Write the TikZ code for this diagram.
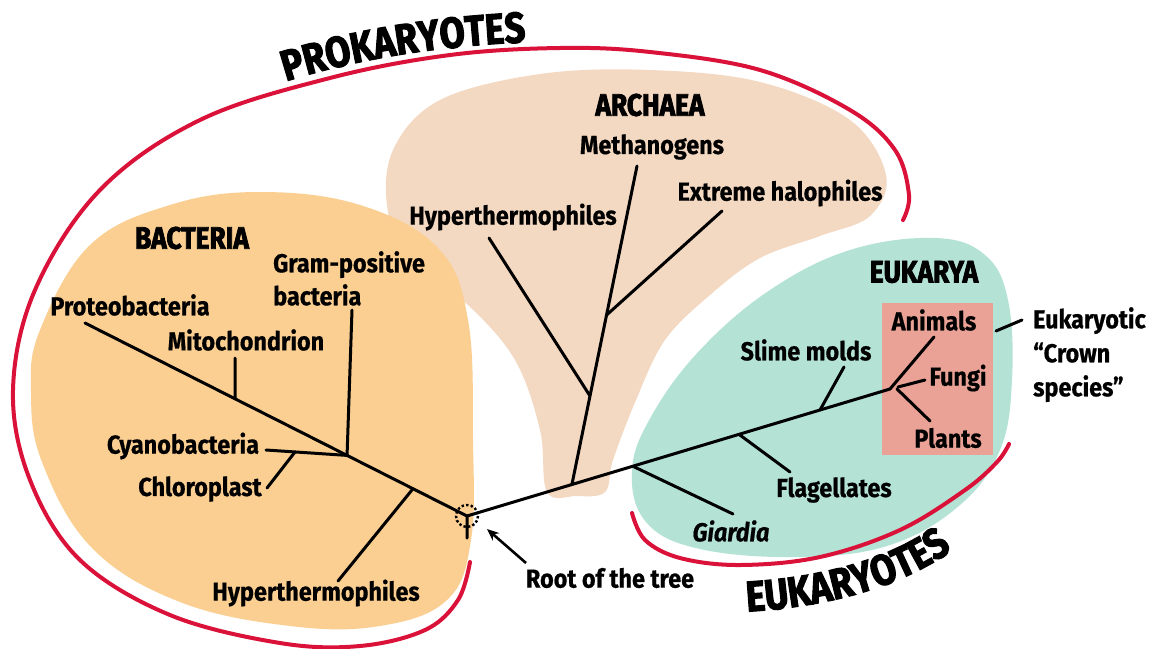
\documentclass[tikz,border=0pt]{standalone}
\usepackage{fontspec}
\newfontfamily\labfam{Fira Sans}[FakeStretch=0.9,FakeBold=0.6]
\newfontfamily\heavyfam{Fira Sans}[FakeStretch=0.85,FakeBold=2.5]
\usetikzlibrary{arrows.meta,calc,decorations.text}
\definecolor{bact}{RGB}{251,207,146}
\definecolor{arch}{RGB}{243,216,194}
\definecolor{euk}{RGB}{180,227,214}
\definecolor{crown}{RGB}{234,162,150}
\definecolor{redarc}{RGB}{218,18,58}
\newcommand\lblfont{\labfam\bfseries\fontsize{26}{33}\selectfont}
\newcommand\ttlfont{\heavyfam\bfseries\fontsize{31}{34}\selectfont}
\newcommand\bigfont{\heavyfam\bfseries\fontsize{43}{44}\selectfont}
\begin{document}
\begin{tikzpicture}[x=1pt,y=-1pt,
  lbl/.style={font=\lblfont, inner sep=0pt},
  ttl/.style={font=\ttlfont, inner sep=0pt},
  curvedtitle/.style={decorate, decoration={text along path, text align=center, text={|\bigfont|#1}}},
  br/.style={line width=3pt, line cap=round},
  redline/.style={draw=redarc, line width=4pt, line cap=round}]
\useasboundingbox (0,0) rectangle (1153,648);
\fill[white] (0,0) rectangle (1153,648);

% ---------- regions ----------
\fill[arch] plot[smooth cycle, tension=0.6] coordinates {(547,492) (540,430) (515,360) (468,305) (413,263) (388,212) (393,150) (440,100) (540,74) (650,70) (760,82) (850,120) (886,175) (870,216) (820,236) (760,258) (710,295) (665,340) (636,400) (613,460) (605,492) (576,496)};
\fill[bact] plot[smooth cycle, tension=0.65] coordinates {(40,330) (90,245) (170,205) (260,192) (360,205) (438,248) (468,320) (473,440) (471,540) (447,600) (380,626) (290,626) (180,602) (92,548) (42,462) (31,392)};
\fill[euk] plot[smooth cycle, tension=0.65] coordinates {(935,238) (985,255) (1008,300) (1012,380) (1000,450) (960,505) (890,545) (800,557) (700,549) (646,522) (632,470) (652,415) (700,350) (770,290) (850,250)};
\fill[crown] (882,303) rectangle (993,455);

% ---------- red brackets ----------
\draw[redline] plot[smooth, tension=0.6] coordinates {(903,220) (909,195) (895,150) (850,110) (760,70) (650,52) (560,48) (450,55) (330,78) (200,120) (100,190) (35,290) (13,390) (30,480) (80,560) (170,615) (280,643) (360,646) (425,630) (458,600) (470,562)};
\draw[redline] plot[smooth, tension=0.6] coordinates {(632,513) (645,540) (680,558) (740,565) (820,557) (900,530) (965,490) (997,462) (1009,444)};

% ---------- big titles (curved) ----------
\coordinate (prokA) at (284,82);
\coordinate (prokB) at (528,42);
\path[curvedtitle=PROKARYOTES] (prokA) .. controls (360,58) and (440,46) .. (prokB);
\coordinate (eukA) at (740,612);
\coordinate (eukB) at (958,546);
\path[curvedtitle=EUKARYOTES] (eukA) .. controls (820,608) and (900,590) .. (eukB);

\node[ttl] (bacttl) at (192,238) {BACTERIA};
\node[ttl] (archttl) at (650,105) {ARCHAEA};
\node[ttl] (euttl) at (924,272) {EUKARYA};

% ---------- tree coordinates ----------
\coordinate (R) at (467,516);
\coordinate (P) at (85,323);
\coordinate (mitoN) at ($(P)!0.3927!(R)$);
\coordinate (mitoT) at (235,358);
\coordinate (gramN) at ($(P)!0.686!(R)$);
\coordinate (gramT) at (352,310);
\coordinate (cyanT) at (266,450);
\coordinate (chlN) at ($(cyanT)!0.358!(gramN)$);
\coordinate (chlT) at (267,488);
\coordinate (hypbN) at ($(P)!0.8586!(R)$);
\coordinate (hypbT) at (338,581);
\coordinate (stub) at (467,538);

\coordinate (C) at (890,389);
\coordinate (archN) at ($(R)!0.248!(C)$);
\coordinate (methT) at (637,166);
\coordinate (hypaN) at ($(archN)!0.278!(methT)$);
\coordinate (hypaT) at (489,238);
\coordinate (haloN) at ($(archN)!0.532!(methT)$);
\coordinate (haloT) at (722,211);
\coordinate (giaN) at ($(R)!0.392!(C)$);
\coordinate (giaT) at (733,514);
\coordinate (flaN) at ($(R)!0.643!(C)$);
\coordinate (flaT) at (790,472);
\coordinate (sliN) at ($(R)!0.8345!(C)$);
\coordinate (sliT) at (844,367);
\coordinate (aniT) at (934,337);
\coordinate (funN) at (898,387);
\coordinate (funT) at (925,380);
\coordinate (plaN) at (897,389);
\coordinate (plaT) at (930,421);
\coordinate (crownA) at (996,331);
\coordinate (crownB) at (1022,320);

% ---------- branches ----------
\draw[br] (P) -- (R) -- (stub);
\draw[br] (mitoN) -- (mitoT);
\draw[br] (gramN) -- (gramT);
\draw[br] (gramN) -- (cyanT);
\draw[br] (chlN) -- (chlT);
\draw[br] (hypbN) -- (hypbT);
\draw[br] (R) -- (C);
\draw[br] (archN) -- (methT);
\draw[br] (hypaN) -- (hypaT);
\draw[br] (haloN) -- (haloT);
\draw[br] (giaN) -- (giaT);
\draw[br] (flaN) -- (flaT);
\draw[br] (sliN) -- (sliT);
\draw[br] (C) -- (aniT);
\draw[br] (funN) -- (funT);
\draw[br] (plaN) -- (plaT);
\draw[br] (crownA) -- (crownB);
\draw[line width=2.4pt, dash pattern=on 2.4pt off 2.2pt] (R) circle (11);

% ---------- labels ----------
\node[lbl] (proteo) at (130,305) {Proteobacteria};
\node[lbl] (mito) at (246,340) {Mitochondrion};
\node[lbl, align=left, anchor=north west] (gram) at (273,251) {Gram-positive\\bacteria};
\node[lbl] (cyan) at (183,446) {Cyanobacteria};
\node[lbl] (chl) at (200,489) {Chloroplast};
\node[lbl] (hypb) at (316,593) {Hyperthermophiles};
\node[lbl] (hypa) at (513,217) {Hyperthermophiles};
\node[lbl] (meth) at (652,147) {Methanogens};
\node[lbl] (halo) at (780,193) {Extreme halophiles};
\node[lbl] (slime) at (806,350) {Slime molds};
\node[lbl] (ani) at (934,320) {Animals};
\node[lbl] (fun) at (958,378) {Fungi};
\node[lbl] (pla) at (948,438) {Plants};
\node[lbl] (fla) at (834,490) {Flagellates};
\node[lbl, font=\lblfont\itshape] (gia) at (731,531) {Giardia};
\node[lbl, align=left, anchor=north west, font=\labfam\bfseries\fontsize{26}{34}\selectfont] (crownlab) at (1033,307) {Eukaryotic\\“Crown\\species”};
\node[lbl] (root) at (610,578) {Root of the tree};
\coordinate (arrT) at (526,563);
\coordinate (arrH) at (487,529);
\draw[line width=2.6pt, -{Stealth[length=12pt,width=10pt]}] (arrT) -- (arrH);
\end{tikzpicture}
\end{document}
